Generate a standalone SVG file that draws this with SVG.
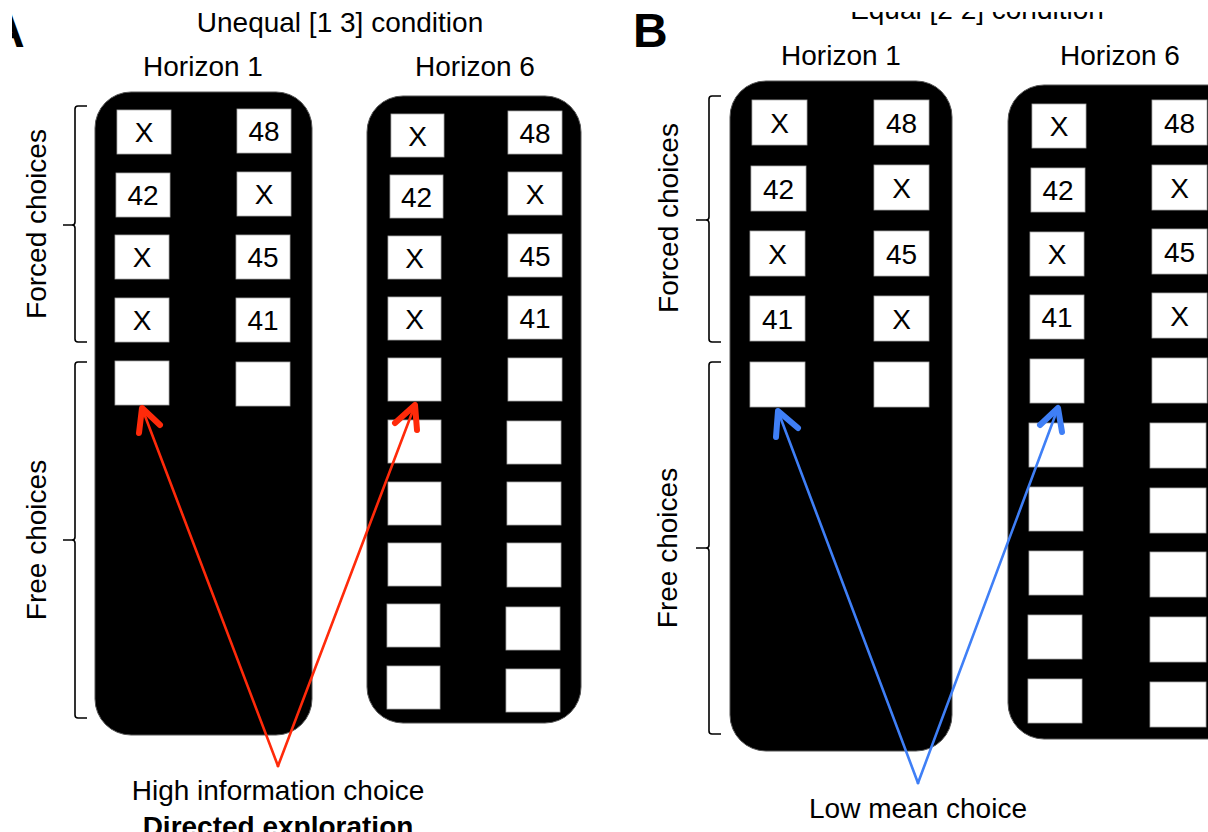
<svg xmlns="http://www.w3.org/2000/svg" width="1208" height="832" viewBox="0 0 1208 832">
<style>
text{font-family:"Liberation Sans",Arial,sans-serif;fill:#000}
.t{font-size:28px;text-anchor:middle}
.lab{font-size:48px;font-weight:bold}
.bold{font-size:28px;font-weight:bold;text-anchor:middle}
.box{fill:#000;stroke:#555;stroke-width:1}
.sq{fill:#fff;stroke:#aaa;stroke-width:0.8}
.br{fill:none;stroke:#000;stroke-width:1.6}
.shaftR{fill:none;stroke:#ff2a0a;stroke-width:2.6;stroke-linecap:round}
.headR{fill:none;stroke:#ff2a0a;stroke-width:6;stroke-linecap:round;stroke-linejoin:round}
.shaftB{fill:none;stroke:#3f7ff6;stroke-width:2.6;stroke-linecap:round}
.headB{fill:none;stroke:#3f7ff6;stroke-width:6;stroke-linecap:round;stroke-linejoin:round}
</style>
<rect width="1208" height="832" fill="#fff"/>

<!-- Panel A -->
<g id="panelA-labels">
<text class="lab" x="-10" y="47">A</text>
<rect x="0" y="0" width="12" height="52" fill="#fff"/>
<text class="t" x="340" y="32">Unequal [1 3] condition</text>
<text class="t" x="203" y="76">Horizon 1</text>
<text class="t" x="475" y="76">Horizon 6</text>
<text class="t" transform="translate(46,224) rotate(-90)">Forced choices</text>
<text class="t" transform="translate(46,540) rotate(-90)">Free choices</text>
<path class="br" d="M87,106 L78,106 Q75,106 75,109 L75,222 Q75,225 72,225 L63,225 M72,225 Q75,225 75,228 L75,339 Q75,342 78,342 L87,342"/>
<path class="br" d="M87,362 L78,362 Q75,362 75,365 L75,537 Q75,540 72,540 L63,540 M72,540 Q75,540 75,543 L75,715 Q75,718 78,718 L87,718"/>
</g>

<g id="A-horizon1">
<rect class="box" x="95" y="92" width="217" height="643" rx="36"/>
<rect class="sq" x="117" y="110" width="54" height="44"/><text class="t" x="144" y="142">X</text>
<rect class="sq" x="237" y="109" width="54" height="44"/><text class="t" x="264" y="141">48</text>
<rect class="sq" x="116" y="173" width="54" height="44"/><text class="t" x="143" y="205">42</text>
<rect class="sq" x="237" y="172" width="54" height="44"/><text class="t" x="264" y="204">X</text>
<rect class="sq" x="115" y="235" width="54" height="44"/><text class="t" x="142" y="267">X</text>
<rect class="sq" x="236" y="235" width="54" height="44"/><text class="t" x="263" y="267">45</text>
<rect class="sq" x="115" y="298" width="54" height="44"/><text class="t" x="142" y="330">X</text>
<rect class="sq" x="236" y="298" width="54" height="44"/><text class="t" x="263" y="330">41</text>
<rect class="sq" x="115" y="361" width="54" height="44"/>
<rect class="sq" x="236" y="362" width="54" height="44"/>
</g>

<g id="A-horizon6">
<rect class="box" x="367" y="96" width="214" height="627" rx="36"/>
<rect class="sq" x="391" y="114" width="53" height="43"/><text class="t" x="417.5" y="145.5">X</text>
<rect class="sq" x="508" y="111" width="54" height="43"/><text class="t" x="535" y="142.5">48</text>
<rect class="sq" x="390" y="175" width="53" height="43"/><text class="t" x="416.5" y="206.5">42</text>
<rect class="sq" x="508" y="172" width="54" height="43"/><text class="t" x="535" y="203.5">X</text>
<rect class="sq" x="388" y="236" width="53" height="43"/><text class="t" x="414.5" y="267.5">X</text>
<rect class="sq" x="508" y="234" width="54" height="43"/><text class="t" x="535" y="265.5">45</text>
<rect class="sq" x="388" y="297" width="53" height="43"/><text class="t" x="414.5" y="328.5">X</text>
<rect class="sq" x="508" y="296" width="54" height="43"/><text class="t" x="535" y="327.5">41</text>
<rect class="sq" x="388" y="358" width="53" height="43"/>
<rect class="sq" x="508" y="358" width="54" height="43"/>
<rect class="sq" x="388" y="420" width="53" height="43"/>
<rect class="sq" x="507" y="421" width="54" height="43"/>
<rect class="sq" x="388" y="482" width="53" height="43"/>
<rect class="sq" x="507" y="482" width="54" height="43"/>
<rect class="sq" x="388" y="543" width="53" height="43"/>
<rect class="sq" x="507" y="543" width="54" height="44"/>
<rect class="sq" x="387" y="604" width="53" height="43"/>
<rect class="sq" x="506" y="607" width="54" height="43"/>
<rect class="sq" x="387" y="666" width="53" height="43"/>
<rect class="sq" x="506" y="669" width="54" height="43"/>
</g>

<g id="panelA-caption">
<text class="t" x="278" y="800">High information choice</text>
<text class="bold" x="278" y="836">Directed exploration</text>
</g>

<!-- Panel B -->
<g id="panelB-labels">
<text class="lab" x="633" y="47">B</text>
<text class="t" x="977" y="19">Equal [2 2] condition</text>
<text class="t" x="841" y="65">Horizon 1</text>
<text class="t" x="1120" y="65">Horizon 6</text>
<text class="t" transform="translate(678,218) rotate(-90)">Forced choices</text>
<text class="t" transform="translate(677,548) rotate(-90)">Free choices</text>
<path class="br" d="M721,96 L712,96 Q709,96 709,99 L709,217 Q709,220 706,220 L696,220 M706,220 Q709,220 709,223 L709,339 Q709,342 712,342 L721,342"/>
<path class="br" d="M721,362 L712,362 Q709,362 709,365 L709,545 Q709,548 706,548 L696,548 M706,548 Q709,548 709,551 L709,731 Q709,734 712,734 L721,734"/>
</g>

<g id="B-horizon1">
<rect class="box" x="730" y="81" width="222" height="670" rx="36"/>
<rect class="sq" x="752" y="100" width="55" height="45"/><text class="t" x="779.5" y="132.5">X</text>
<rect class="sq" x="874" y="100" width="55" height="45"/><text class="t" x="901.5" y="132.5">48</text>
<rect class="sq" x="751" y="166" width="55" height="45"/><text class="t" x="778.5" y="198.5">42</text>
<rect class="sq" x="874" y="165" width="55" height="45"/><text class="t" x="901.5" y="197.5">X</text>
<rect class="sq" x="750" y="231" width="55" height="45"/><text class="t" x="777.5" y="263.5">X</text>
<rect class="sq" x="874" y="231" width="55" height="45"/><text class="t" x="901.5" y="263.5">45</text>
<rect class="sq" x="750" y="296" width="55" height="45"/><text class="t" x="777.5" y="328.5">41</text>
<rect class="sq" x="874" y="296" width="55" height="45"/><text class="t" x="901.5" y="328.5">X</text>
<rect class="sq" x="750" y="362" width="55" height="45"/>
<rect class="sq" x="874" y="362" width="55" height="45"/>
</g>

<g id="B-horizon6">
<rect class="box" x="1008" y="85" width="240" height="654" rx="36"/>
<rect class="sq" x="1032" y="104" width="54" height="44"/><text class="t" x="1059" y="136">X</text>
<rect class="sq" x="1152" y="100" width="55" height="45"/><text class="t" x="1179.5" y="132.5">48</text>
<rect class="sq" x="1031" y="168" width="54" height="44"/><text class="t" x="1058" y="200">42</text>
<rect class="sq" x="1152" y="165" width="55" height="45"/><text class="t" x="1179.5" y="197.5">X</text>
<rect class="sq" x="1030" y="232" width="54" height="44"/><text class="t" x="1057" y="264">X</text>
<rect class="sq" x="1152" y="229" width="55" height="45"/><text class="t" x="1179.5" y="261.5">45</text>
<rect class="sq" x="1030" y="295" width="54" height="44"/><text class="t" x="1057" y="327">41</text>
<rect class="sq" x="1152" y="293" width="55" height="45"/><text class="t" x="1179.5" y="325.5">X</text>
<rect class="sq" x="1030" y="359" width="54" height="44"/>
<rect class="sq" x="1152" y="358" width="55" height="45"/>
<rect class="sq" x="1029" y="423" width="54" height="44"/>
<rect class="sq" x="1150" y="423" width="56" height="45"/>
<rect class="sq" x="1029" y="487" width="54" height="44"/>
<rect class="sq" x="1150" y="488" width="56" height="45"/>
<rect class="sq" x="1029" y="551" width="54" height="44"/>
<rect class="sq" x="1150" y="552" width="56" height="45"/>
<rect class="sq" x="1028" y="615" width="54" height="44"/>
<rect class="sq" x="1150" y="617" width="56" height="45"/>
<rect class="sq" x="1028" y="679" width="54" height="44"/>
<rect class="sq" x="1150" y="682" width="56" height="45"/>
</g>

<g id="panelB-caption">
<text class="t" x="918" y="818">Low mean choice</text>
</g>

<g id="connectors">
<path class="shaftR" d="M278,766 L142,408"/>
<path class="headR" d="M139,433 L142,408 L160,425"/>
<path class="shaftR" d="M278,766 L415,405"/>
<path class="headR" d="M395,423 L415,405 L417,430"/>
<path class="shaftB" d="M918,783 L778,411"/>
<path class="headB" d="M776,437 L778,411 L798,428"/>
<path class="shaftB" d="M918,783 L1058,408"/>
<path class="headB" d="M1040,425 L1058,408 L1062,432"/>
</g>

<rect x="0" y="0" width="1208" height="12" fill="#fff"/>
</svg>
